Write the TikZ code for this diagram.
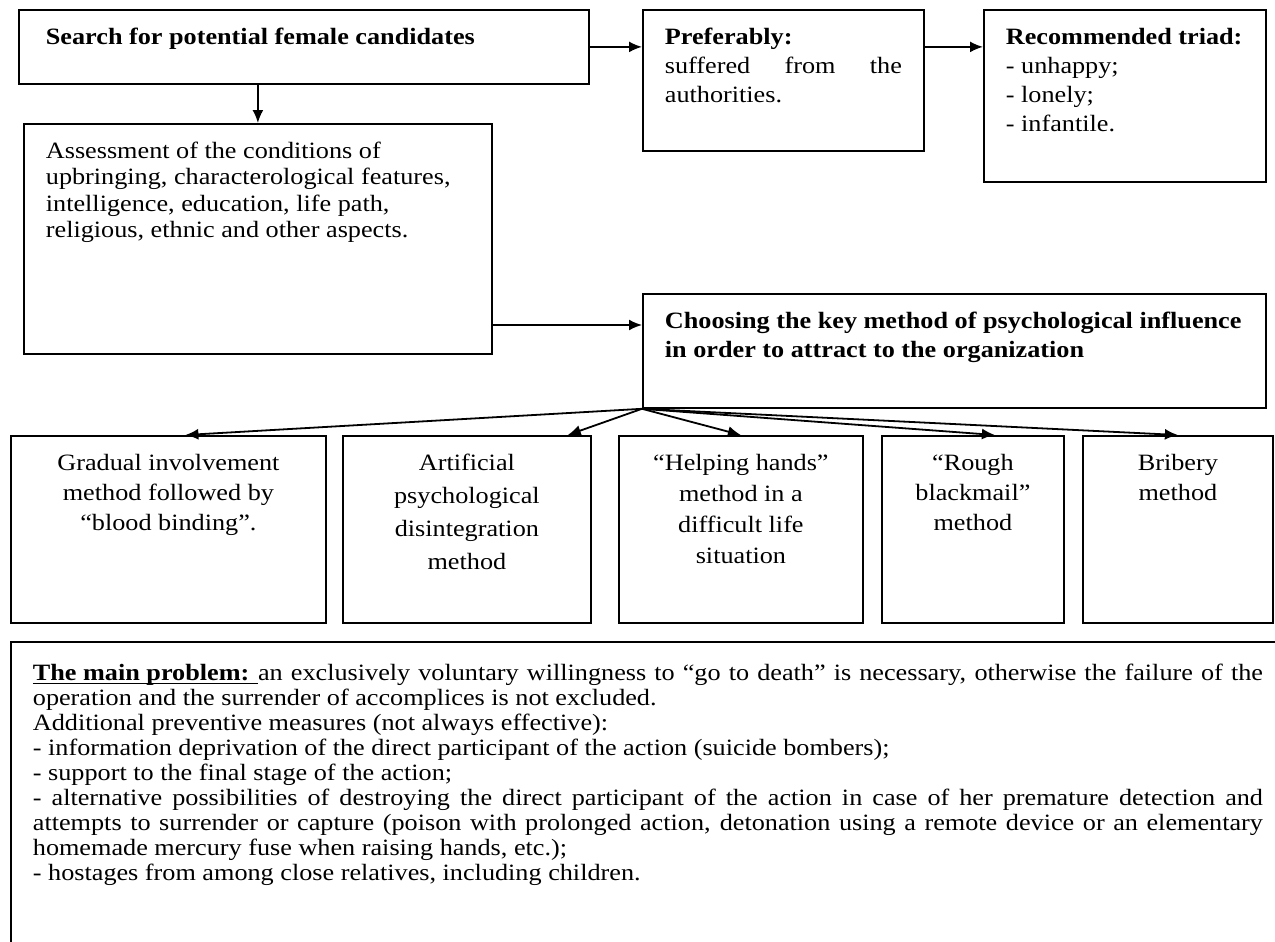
\documentclass[tikz,border=0pt]{standalone}
\usepackage{fontspec}
\setmainfont{Liberation Serif}[FakeStretch=1.12]
\usetikzlibrary{shapes,arrows.meta}
\tikzstyle{block} = [rectangle, draw, line width=0.9pt, anchor=north west, inner ysep=0pt, inner xsep=11pt]
\tikzstyle{method} = [block, inner xsep=4pt]
\tikzstyle{line} = [draw, line width=0.9pt, -{Latex[length=6.5pt,width=5.5pt]}]
% text box of fixed size, text at the top
\newcommand{\boxtext}[3]{\parbox[t][#2][t]{#1}{\vspace*{9pt}#3}}
% underline close to the baseline
\newcommand{\lowline}[1]{\leavevmode\setbox0\hbox{#1}\rlap{\rule[-2pt]{\wd0}{0.7pt}}\box0}

\begin{document}
\begin{tikzpicture}[x=0.5pt,y=-0.5pt]
\useasboundingbox (0,0) rectangle (1275,942);
\clip (0,0) rectangle (1275,942);

\node [block, inner xsep=13.5pt] (search) at (18,9) {\fontsize{11.7}{14.5}\selectfont\boxtext{258pt}{37pt}{\textbf{Search for potential female candidates}}};

\node [block] (assess) at (23,123) {\fontsize{11.7}{13.25}\selectfont\boxtext{212pt}{115pt}{\raggedright Assessment of the conditions of\\ upbringing, characterological features,\\ intelligence, education, life path,\\ religious, ethnic and other aspects.}};

\node [block] (pref) at (642,9) {\fontsize{11.7}{14.5}\selectfont\boxtext{118.5pt}{70.5pt}{\textbf{Preferably:}\\ suffered from the\linebreak authorities.}};

\node [block] (triad) at (983,9) {\fontsize{11.7}{14.5}\selectfont\boxtext{119pt}{86pt}{\raggedright\textbf{Recommended triad:}\\ - unhappy;\\ - lonely;\\ - infantile.}};

\node [block] (choose) at (642,293) {\fontsize{11.7}{14.5}\selectfont\boxtext{289.5pt}{57pt}{\raggedright\textbf{Choosing the key method of psychological influence\\ in order to attract to the organization}}};

% methods
\node [method] (gradual) at (10,435) {\fontsize{11.7}{15}\selectfont\boxtext{149.5pt}{93.5pt}{\centering Gradual involvement\\ method followed by\\ “blood binding”.}};
\node [method] (artificial) at (342,435) {\fontsize{11.7}{16.5}\selectfont\boxtext{116pt}{93.5pt}{\centering Artificial\\ psychological\\ disintegration\\ method}};
\node [method] (helping) at (618,435) {\fontsize{11.7}{15.5}\selectfont\boxtext{114pt}{93.5pt}{\centering “Helping hands”\\ method in a\\ difficult life\\ situation}};
\node [method] (blackmail) at (881,435) {\fontsize{11.7}{15}\selectfont\boxtext{83pt}{93.5pt}{\centering “Rough\\ blackmail”\\ method}};
\node [method] (bribery) at (1082,435) {\fontsize{11.7}{15}\selectfont\boxtext{87pt}{93.5pt}{\centering Bribery\\ method}};

\node [block] (problem) at (10,641) {\fontsize{11.7}{12.5}\selectfont\parbox[t][160pt][t]{615pt}{\vspace*{11pt}\lowline{\textbf{The main problem:} }an exclusively voluntary willingness to “go to death” is necessary, otherwise the failure of the\linebreak operation and the surrender of accomplices is not excluded.\\
Additional preventive measures (not always effective):\\
- information deprivation of the direct participant of the action (suicide bombers);\\
- support to the final stage of the action;\\
- alternative possibilities of destroying the direct participant of the action in case of her premature detection and\linebreak attempts to surrender or capture (poison with prolonged action, detonation using a remote device or an elementary\linebreak homemade mercury fuse when raising hands, etc.);\\
- hostages from among close relatives, including children.}};

\coordinate (midy) at (0,325);

% links
\path [line] (assess.north |- search.south) -- (assess.north);
\path [line] (search.east) -- (search.east -| pref.west);
\path [line] (search.east -| pref.east) -- (search.east -| triad.west);
\path [line] (assess.east |- midy) -- (choose.west |- midy);

\path [line] (choose.south west) -- ([xshift=8.5pt]gradual.north);
\path [line] (choose.south west) -- ([xshift=-12pt]artificial.north east);
\path [line] (choose.south west) -- (helping.north);
\path [line] (choose.south west) -- ([xshift=11pt]blackmail.north);
\path [line] (choose.south west) -- (bribery.north);

\end{tikzpicture}
\end{document}
